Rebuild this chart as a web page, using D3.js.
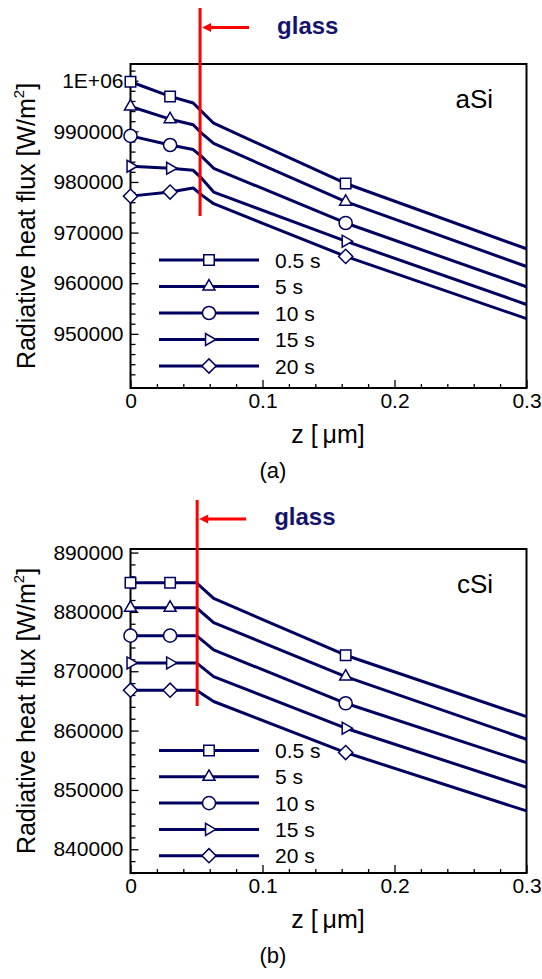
<!DOCTYPE html>
<html>
<head>
<meta charset="utf-8">
<script src="https://cdn.jsdelivr.net/npm/d3@7"></script>
<style>
  body { margin: 0; background: #fff; }
  text { font-family: "Liberation Sans", Arial, sans-serif; }
</style>
</head>
<body>
<svg id="canvas" width="542" height="979"></svg>
<script>
// ---- data ----
const seriesLabels = ["0.5 s", "5 s", "10 s", "15 s", "20 s"]
const xTicks = [0, 0.1, 0.2, 0.3]

// (a) aSi
const aSi_z  = [0, 0.03, 0.0475, 0.054, 0.063, 0.163, 0.3]
const aSi_05 = [999800, 996900, 995600, 993900, 991600, 979700, 966800]
const aSi_5  = [994900, 992400, 991300, 989600, 987600, 976100, 963300]
const aSi_10 = [989100, 987300, 986400, 985000, 982700, 971900, 959300]
const aSi_15 = [983100, 982700, 982300, 980700, 978000, 968300, 955800]
const aSi_20 = [977200, 978000, 978800, 977400, 975700, 965300, 953000]
const aSi_markerIdx = [0, 1, 5]
const aSi_yTicks = [950000, 960000, 970000, 980000, 990000, 1000000]
const aSi_glassZ = 0.0527

// (b) cSi
const cSi_z  = [0, 0.03, 0.05, 0.063, 0.163, 0.3]
const cSi_05 = [884900, 884900, 884900, 882270, 872700, 862340]
const cSi_5  = [880700, 880700, 880700, 878200, 869100, 858540]
const cSi_10 = [876000, 876000, 876000, 873600, 864600, 854600]
const cSi_15 = [871400, 871400, 871400, 869100, 860400, 850450]
const cSi_20 = [866800, 866800, 866800, 864900, 856300, 846460]
const cSi_markerIdx = [0, 1, 4]
const cSi_yTicks = [840000, 850000, 860000, 870000, 880000, 890000]
const cSi_glassZ = 0.0505

const navy = "#000060"
const svg = d3.select('#canvas')

// marker shapes: square, triangle, circle, right triangle, diamond
const sq = d3.symbol().type(d3.symbolSquare).size(110)
const tri = d3.symbol().type(d3.symbolTriangle).size(62)
const circ = d3.symbol().type(d3.symbolCircle).size(135)
const markers = [
    {path: sq(), rot: 0},
    {path: tri(), rot: 0},
    {path: circ(), rot: 0},
    {path: tri(), rot: 90},
    {path: d3.symbol().type(d3.symbolSquare).size(100)(), rot: 45}
]

const drawMarker = (g, cx, cy, i) => {
    g.append('path')
        .attr('d', markers[i].path)
        .attr('transform', `translate(${cx},${cy}) rotate(${markers[i].rot})`)
        .attr('fill', 'white')
        .attr('stroke', navy)
        .attr('stroke-width', 1.5)
}

const drawPanel = (cfg) => {
    const g = svg.append('g')
    const x = d3.scaleLinear().domain([0, 0.3]).range([130.5, 526.5])
    const y = d3.scaleLinear().domain(cfg.yDomain).range([cfg.bottom, cfg.top])

    // minor ticks
    const yMinor = d3.range(cfg.yDomain[0], cfg.yDomain[1], 2000).map(v => Math.ceil(v / 2000) * 2000)
        .filter(v => v >= cfg.yDomain[0] && v <= cfg.yDomain[1] && v % 10000 !== 0)
    g.append('g')
        .attr('transform', `translate(${x(0)},0)`)
        .call(d3.axisLeft(y).tickValues(yMinor).tickSize(-5).tickFormat(''))
        .call(a => a.select('.domain').remove())
    g.append('g')
        .attr('transform', `translate(0,${cfg.bottom})`)
        .call(d3.axisBottom(x).tickValues(d3.range(0.02, 0.3, 0.02).filter(v => Math.abs(v * 10 - Math.round(v * 10)) > 1e-6)).tickSize(-4).tickFormat(''))
        .call(a => a.select('.domain').remove())

    // major ticks + labels
    const yAxis = g.append('g')
        .attr('transform', `translate(${x(0)},0)`)
        .call(d3.axisLeft(y).tickValues(cfg.yTicks).tickSize(-8).tickPadding(7)
            .tickFormat(d => d === 1000000 ? '1E+06' : d3.format('d')(d)))
    yAxis.select('.domain').remove()
    yAxis.selectAll('text').attr('font-size', 21).attr('fill', 'black')
        .attr('font-family', '"Liberation Sans", Arial, sans-serif')

    const xAxis = g.append('g')
        .attr('transform', `translate(0,${cfg.bottom})`)
        .call(d3.axisBottom(x).tickValues(xTicks).tickSize(-8).tickPadding(5)
            .tickFormat(d => d === 0 ? '0' : d3.format('.1f')(d)))
    xAxis.select('.domain').remove()
    xAxis.selectAll('text').attr('font-size', 21).attr('fill', 'black')
        .attr('font-family', '"Liberation Sans", Arial, sans-serif')
    g.selectAll('.tick line').attr('stroke', 'black').attr('stroke-width', 1.3)

    // frame
    g.append('rect')
        .attr('x', x(0)).attr('y', cfg.top)
        .attr('width', x(0.3) - x(0)).attr('height', cfg.bottom - cfg.top)
        .attr('fill', 'none').attr('stroke', 'black').attr('stroke-width', 2)

    // series lines
    const line = d3.line().x((d, i) => x(cfg.z[i])).y(d => y(d))
    cfg.series.forEach((s, k) => {
        g.append('path')
            .attr('d', line(s))
            .attr('fill', 'none')
            .attr('stroke', navy)
            .attr('stroke-width', 3)
            .attr('stroke-linejoin', 'round')
    })

    // glass line + arrow
    const gx = x(cfg.glassZ)
    g.append('line')
        .attr('x1', gx).attr('x2', gx)
        .attr('y1', cfg.glassTop).attr('y2', cfg.glassBottom)
        .attr('stroke', '#ff0000').attr('stroke-width', 3)
    g.append('line')
        .attr('x1', gx + 9).attr('x2', gx + 49)
        .attr('y1', cfg.arrowY).attr('y2', cfg.arrowY)
        .attr('stroke', '#ff0000').attr('stroke-width', 3)
    g.append('path')
        .attr('d', `M${gx + 2},${cfg.arrowY} L${gx + 11},${cfg.arrowY - 4.5} L${gx + 11},${cfg.arrowY + 4.5} Z`)
        .attr('fill', '#ff0000')
    g.append('text')
        .attr('x', gx + 77).attr('y', cfg.arrowY + 6)
        .attr('font-family', '"DejaVu Sans", Verdana, sans-serif')
        .attr('font-weight', 'bold')
        .attr('font-size', 24)
        .attr('fill', '#14146e')
        .text('glass')

    // markers on the lines
    cfg.series.forEach((s, k) => {
        cfg.markerIdx.forEach(i => drawMarker(g, x(cfg.z[i]), y(s[i]), k))
    })

    // legend
    seriesLabels.forEach((lab, k) => {
        const ly = cfg.legendY + k * cfg.legendStep
        g.append('line')
            .attr('x1', 159).attr('x2', 259).attr('y1', ly).attr('y2', ly)
            .attr('stroke', navy).attr('stroke-width', 3)
        drawMarker(g, 209, ly, k)
        g.append('text')
            .attr('x', 275).attr('y', ly + 7.5)
            .attr('font-size', 21)
            .text(lab)
    })

    // panel name
    g.append('text')
        .attr('x', 493).attr('y', cfg.top + 44)
        .attr('text-anchor', 'end')
        .attr('font-size', 26)
        .text(cfg.name)

    // axis titles
    const yt = g.append('text')
        .attr('transform', `translate(35,${(cfg.top + cfg.bottom) / 2}) rotate(-90)`)
        .attr('text-anchor', 'middle')
        .attr('font-size', 25)
    yt.append('tspan').text('Radiative heat flux [W/m')
    yt.append('tspan').attr('font-size', 15).attr('dy', -11).text('2')
    yt.append('tspan').attr('dy', 11).text(']')

    g.append('text')
        .attr('x', 328).attr('y', cfg.bottom + 55)
        .attr('text-anchor', 'middle')
        .attr('font-size', 25)
        .text('z [\u2009\u03bcm]')

    g.append('text')
        .attr('x', 273).attr('y', cfg.bottom + 90)
        .attr('text-anchor', 'middle')
        .attr('font-family', '"Liberation Serif", "Times New Roman", serif')
        .attr('font-size', 22)
        .text(cfg.caption)
}

drawPanel({
    name: 'aSi', caption: '(a)',
    z: aSi_z, series: [aSi_05, aSi_5, aSi_10, aSi_15, aSi_20],
    markerIdx: aSi_markerIdx, yTicks: aSi_yTicks,
    yDomain: [939300, 1003300], top: 64, bottom: 388,
    glassZ: aSi_glassZ, glassTop: 8, glassBottom: 216, arrowY: 27.5,
    legendY: 260, legendStep: 26.5
})

drawPanel({
    name: 'cSi', caption: '(b)',
    z: cSi_z, series: [cSi_05, cSi_5, cSi_10, cSi_15, cSi_20],
    markerIdx: cSi_markerIdx, yTicks: cSi_yTicks,
    yDomain: [836000, 890600], top: 549, bottom: 873,
    glassZ: cSi_glassZ, glassTop: 500, glassBottom: 706, arrowY: 519,
    legendY: 750.5, legendStep: 26.3
})
</script>
</body>
</html>
